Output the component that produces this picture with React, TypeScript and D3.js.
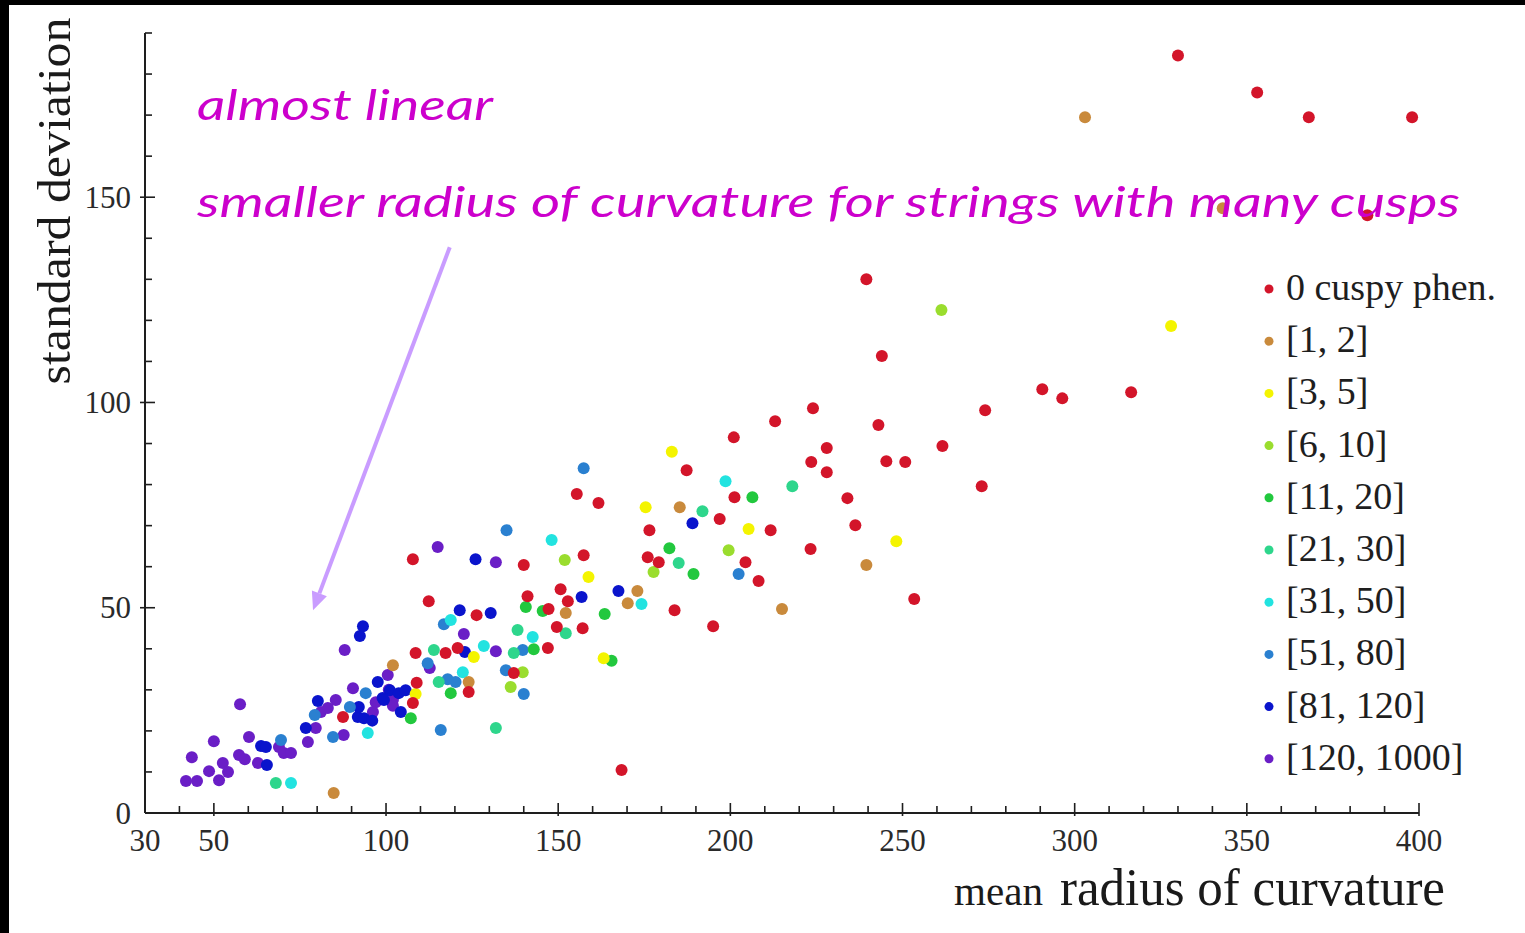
import React from "react";
import * as d3 from "d3";

type P = [number, number];

// ---- data (mean radius of curvature, standard deviation) ----
const cusp0: P[] = [
  [330, 184.5], [353, 175.5], [368, 169.5], [398, 169.5], [385, 145.6], [239.5, 130], [244, 111.3],
  [290.6, 103.2], [296.4, 101], [316.4, 102.5], [274, 98.1], [224, 98.6], [213, 95.4], [243, 94.5],
  [201, 91.5], [228, 88.9], [261.6, 89.4], [223.5, 85.5], [245.3, 85.7], [250.8, 85.5], [228, 83],
  [187.3, 83.5], [273, 79.6], [234, 76.7], [155.4, 77.7], [161.7, 75.5], [201.2, 76.9], [196.9, 71.6],
  [211.7, 68.9], [236.3, 70.1], [176.5, 68.9], [204.4, 61.1], [223.3, 64.3], [208.2, 56.5], [253.4, 52.1],
  [195, 45.5], [183.8, 49.4], [168.4, 10.5], [157.4, 62.8], [176, 62.3], [179.2, 61.1], [140, 60.4],
  [150.7, 54.5], [141.1, 52.8], [152.8, 51.6], [147.2, 49.7], [149.6, 45.3], [157.1, 45], [147, 40.2],
  [107.8, 61.8], [112.4, 51.6], [126.3, 48.2], [108.6, 39], [117.3, 39], [120.8, 40.2], [137.1, 34.1],
  [108.9, 31.7], [124, 29.5], [107.8, 26.8], [87.5, 23.4],
];
const cusp1to2: P[] = [
  [303, 169.5], [343, 147.3], [239.5, 60.4], [215, 49.7], [185.3, 74.5], [173, 54.1], [170.2, 51.1],
  [152.2, 48.7], [102, 36], [124, 31.9], [84.8, 4.9],
];
const cusp3to5: P[] = [
  [328, 118.6], [183, 88], [175.4, 74.5], [205.3, 69.2], [158.8, 57.5], [163.2, 37.7], [125.5, 38],
  [108.6, 29], [248.2, 66.2],
];
const cusp6to10: P[] = [
  [261.3, 122.5], [151.9, 61.6], [177.7, 58.7], [199.5, 64], [139.7, 34.3], [136.2, 30.7],
];
const cusp11to20: P[] = [
  [206.4, 76.9], [182.3, 64.5], [189.3, 58.2], [140.6, 50.2], [145.5, 49.2], [163.5, 48.5], [142.9, 39.9],
  [165.5, 37.1], [118.8, 29.2], [107.2, 23.1],
];
const cusp21to30: P[] = [
  [218, 79.6], [191.9, 73.5], [185, 60.9], [152.2, 43.8], [138.2, 44.6], [113.9, 39.7], [137.1, 39],
  [115.3, 31.9], [131.9, 20.7], [68, 7.3],
];
const cusp31to50: P[] = [
  [198.6, 80.8], [148.1, 66.5], [174.2, 50.9], [142.6, 42.9], [118.8, 47], [128.4, 40.7], [122.3, 34.3],
  [94.7, 19.5], [72.4, 7.3],
];
const cusp51to80: P[] = [
  [157.4, 84], [202.4, 58.2], [139.7, 39.7], [135, 68.9], [116.8, 46], [112.1, 36.5], [134.8, 34.8],
  [117.9, 32.6], [120.2, 31.9], [94.1, 29.2], [140, 29], [89.5, 25.8], [79.3, 23.9], [84.6, 18.5],
  [69.5, 17.8], [115.9, 20.2],
];
const cusp81to120: P[] = [
  [189, 70.6], [156.8, 52.6], [167.5, 54.1], [126, 61.8], [121.4, 49.4], [130.4, 48.7], [93.3, 45.5],
  [92.4, 43.1], [122.9, 39.2], [97.6, 31.9], [101.1, 29.9], [103.7, 29.2], [80.2, 27.3], [91.8, 23.4],
  [76.7, 20.7], [63.7, 16.3], [65.1, 16.1], [65.4, 11.7], [93.6, 23.1], [96, 22.5], [99, 28],
  [99.4, 27.5], [105.7, 29.9], [92.1, 25.8], [104.3, 24.6],
];
const cusp120to1000: P[] = [
  [115, 64.8], [131.9, 61.1], [122.6, 43.6], [131.9, 39.4], [88, 39.7], [112.7, 35.3], [100.5, 33.6],
  [90.4, 30.4], [57.6, 26.5], [85.4, 27.5], [81.1, 24.6], [83.1, 25.6], [79.6, 20.7], [77.3, 17.3],
  [87.7, 19], [50, 17.5], [60.2, 18.5], [68.9, 16.1], [70.3, 14.6], [72.4, 14.6], [57.3, 14.1], [59, 13.1],
  [62.8, 12.2], [43.6, 13.6], [52.6, 12.2], [54.1, 10], [48.6, 10.2], [51.5, 8], [41.9, 7.8], [45.1, 7.8],
  [97, 27], [102, 27.5], [102, 26.1], [96.2, 24.6], [100.8, 30],
];

const legendLabels = [
  "0 cuspy phen.", "[1, 2]", "[3, 5]", "[6, 10]", "[11, 20]", "[21, 30]", "[31, 50]", "[51, 80]", "[81, 120]", "[120, 1000]",
];
const seriesColors = [
  "#d3152a", "#c98a3c", "#f4f400", "#9add2e", "#22c83e", "#2ed68c", "#22e3e0", "#2a80d0", "#0a14cc", "#6a1ec6",
];
const allSeries = [cusp0, cusp1to2, cusp3to5, cusp6to10, cusp11to20, cusp21to30, cusp31to50, cusp51to80, cusp81to120, cusp120to1000];

const xTickLabels = [30, 50, 100, 150, 200, 250, 300, 350, 400];
const yTickLabels = [0, 50, 100, 150];
// arrow annotation in data units: from -> to
const arrowFrom: P = [118.5, 137.8];
const arrowTo: P = [78.8, 49.4];

export default function App() {
  const W = 1525, H = 933;
  const x = d3.scaleLinear().domain([30, 400]).range([145, 1419]);
  const y = d3.scaleLinear().domain([0, 190]).range([813, 33]);

  const xMinor = d3.range(40, 401, 10);
  const yMinor = d3.range(10, 191, 10);
  const axisColor = "#1e1e1e";

  const ax0 = x(arrowFrom[0]), ay0 = y(arrowFrom[1]);
  const ax1 = x(arrowTo[0]), ay1 = y(arrowTo[1]);
  const ang = Math.atan2(ay1 - ay0, ax1 - ax0);
  const headL = 18, headW = 8;
  const bx = ax1 - headL * Math.cos(ang), by = ay1 - headL * Math.sin(ang);
  const head = [
    [ax1, ay1],
    [bx + headW * Math.sin(ang), by - headW * Math.cos(ang)],
    [bx - headW * Math.sin(ang), by + headW * Math.cos(ang)],
  ];

  const drawOrder = [9, 8, 7, 6, 5, 4, 3, 2, 1, 0];

  return (
    <svg width={W} height={H} style={{ position: "absolute", left: 0, top: 0, background: "#fff" }}>
      <rect x={0} y={0} width={W} height={H} fill="#fff" />
      <rect x={0} y={0} width={9} height={H} fill="#000" />
      <rect x={0} y={0} width={W} height={5} fill="#000" />

      {/* axes */}
      <line x1={x(30)} x2={x(30)} y1={y(0)} y2={y(190)} stroke={axisColor} strokeWidth={2} />
      <line x1={x(30)} x2={x(400)} y1={y(0)} y2={y(0)} stroke={axisColor} strokeWidth={2} />
      {xMinor.map((v) => {
        const major = v % 50 === 0;
        return (
          <line key={"xt" + v} x1={x(v)} x2={x(v)} y1={y(0) + (major ? 3 : 0)} y2={y(0) - (major ? 10 : 7)}
            stroke={axisColor} strokeWidth={1.6} />
        );
      })}
      {yMinor.map((v) => {
        const major = v % 50 === 0;
        return (
          <line key={"yt" + v} x1={x(30) - (major ? 5 : 0)} x2={x(30) + (major ? 10 : 7)} y1={y(v)} y2={y(v)}
            stroke={axisColor} strokeWidth={1.6} />
        );
      })}
      {xTickLabels.map((v) => (
        <text key={"xl" + v} x={x(v)} y={851} textAnchor="middle"
          fontFamily="'Liberation Serif', serif" fontSize={31} fill="#2a2a2a">{v}</text>
      ))}
      {yTickLabels.map((v) => (
        <text key={"yl" + v} x={131} y={y(v)} textAnchor="end" dominantBaseline="central"
          fontFamily="'Liberation Serif', serif" fontSize={31} fill="#2a2a2a">{v}</text>
      ))}

      {/* axis labels */}
      <text transform={`translate(70,201) rotate(-90)`} textAnchor="middle"
        fontFamily="'Liberation Serif', serif" fontSize={47} fill="#1a1a1a" textLength={367} lengthAdjust="spacingAndGlyphs">
        standard deviation
      </text>
      <text x={954} y={905} fontFamily="'Liberation Serif', serif" fontSize={40} fill="#1a1a1a"
        textLength={89} lengthAdjust="spacingAndGlyphs">mean</text>
      <text x={1060} y={905} fontFamily="'Liberation Serif', serif" fontSize={52} fill="#1a1a1a"
        textLength={385} lengthAdjust="spacingAndGlyphs">radius of curvature</text>

      {/* points */}
      {drawOrder.map((si) => (
        <g key={"s" + si} fill={seriesColors[si]}>
          {allSeries[si].map((d, i) => (
            <circle key={i} cx={x(d[0])} cy={y(d[1])} r={6} />
          ))}
        </g>
      ))}

      {/* legend */}
      {legendLabels.map((lab, i) => {
        const cy = 287 + i * 52.2;
        return (
          <g key={"lg" + i}>
            <circle cx={1269} cy={cy + 2} r={4.5} fill={seriesColors[i]} />
            <text x={1286} y={cy} dominantBaseline="central" fontFamily="'Liberation Serif', serif"
              fontSize={38} fill="#1e1e1e">{lab}</text>
          </g>
        );
      })}

      {/* annotations */}
      <text x={197} y={120} fontFamily="Lato, 'Open Sans', sans-serif" fontStyle="italic" fontWeight={400}
        fontSize={42} fill="#cc00cc" textLength={296} lengthAdjust="spacingAndGlyphs">almost linear</text>
      <text x={197} y={217} fontFamily="Lato, 'Open Sans', sans-serif" fontStyle="italic" fontWeight={400}
        fontSize={42} fill="#cc00cc" textLength={1263} lengthAdjust="spacingAndGlyphs">
        smaller radius of curvature for strings with many cusps
      </text>
      <line x1={ax0} y1={ay0} x2={bx} y2={by} stroke="#c99cff" strokeWidth={4} />
      <polygon points={head.map((p) => p.join(",")).join(" ")} fill="#c99cff" />
    </svg>
  );
}
